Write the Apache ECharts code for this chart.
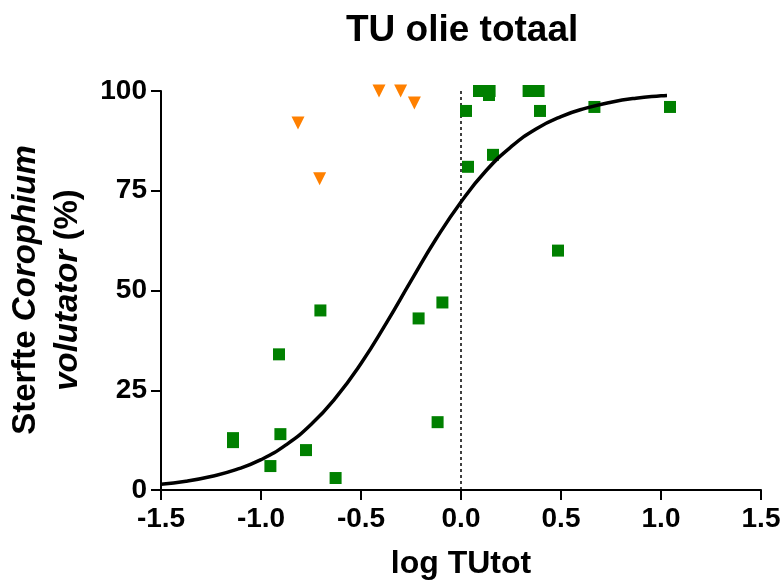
<!DOCTYPE html>
<html>
<head>
<meta charset="utf-8">
<script src="https://cdn.jsdelivr.net/npm/echarts@6/dist/echarts.min.js"></script>
<style>html,body{margin:0;padding:0;background:#fff}#c{width:784px;height:585px}</style>
</head>
<body>
<div id="c"></div>
<script>
// Green squares: log TUtot, mortality (%)
const greenX = [0.025, 0.09, 0.143, 0.14, 0.338, 0.388, 0.395, 0.667, 1.045, 0.035, 0.16, 0.485,
                -0.703, -0.91, -0.093, -0.212, -0.117, -1.14, -1.14, -0.903, -0.775, -0.953, -0.627];
const greenY = [95, 100, 100, 99, 100, 100, 95, 96, 96, 81, 84, 60,
                45, 34, 47, 43, 17, 13, 12, 14, 10, 6, 3];
// Orange triangles
const orangeX = [-0.815, -0.707, -0.41, -0.302, -0.233];
const orangeY = [92, 78, 100, 100, 97];
// Fitted curve
const curveX = [-1.5, -1.375, -1.25, -1.125, -1.0, -0.875, -0.75, -0.625, -0.5, -0.375, -0.25, -0.125,
                0, 0.125, 0.25, 0.375, 0.5, 0.625, 0.75, 0.875, 1.0, 1.03];
const curveY = [1.45, 2.2, 3.4, 5.1, 7.6, 11.3, 16.4, 23.2, 31.7, 41.7, 52.4, 62.9,
                72.2, 80.0, 86.0, 90.5, 93.6, 95.7, 97.2, 98.2, 98.8, 98.9];
// Vertical dotted reference line at x = 0
const refX = [0, 0];
const refY = [0, 100];
const xTickLabels = ['-1.5', '-1.0', '-0.5', '0.0', '0.5', '1.0', '1.5'];
const yTickLabels = ['0', '25', '50', '75', '100'];

const FONT = 'Liberation Sans, Arial, sans-serif';
const zip = (a, b) => a.map((v, i) => [v, b[i]]);

const chart = echarts.init(document.getElementById('c'), null, {renderer: 'canvas'});
chart.setOption({
  animation: false,
  backgroundColor: '#ffffff',
  title: {
    text: 'TU olie totaal',
    left: 341, top: 7,
    textStyle: {fontFamily: FONT, fontWeight: 'bold', fontSize: 37, color: '#000'}
  },
  grid: {left: 161, right: 23, top: 91, bottom: 94, containLabel: false},
  xAxis: {
    type: 'value', min: -1.5, max: 1.5, interval: 0.5,
    name: 'log TUtot', nameLocation: 'middle', nameGap: 58,
    nameTextStyle: {fontFamily: FONT, fontWeight: 'bold', fontSize: 32, color: '#000'},
    axisLine: {show: true, onZero: false, lineStyle: {color: '#000', width: 2}},
    axisTick: {show: true, inside: false, length: 10, lineStyle: {color: '#000', width: 2}},
    axisLabel: {
      margin: 15, fontFamily: FONT, fontWeight: 'bold', fontSize: 28, color: '#000',
      formatter: v => xTickLabels[Math.round((v + 1.5) / 0.5)]
    },
    splitLine: {show: false}
  },
  yAxis: {
    type: 'value', min: 0, max: 100, interval: 25,
    axisLine: {show: true, onZero: false, lineStyle: {color: '#000', width: 2}},
    axisTick: {show: true, inside: false, length: 10, lineStyle: {color: '#000', width: 2}},
    axisLabel: {
      margin: 14, fontFamily: FONT, fontWeight: 'bold', fontSize: 28, color: '#000',
      formatter: v => yTickLabels[Math.round(v / 25)]
    },
    splitLine: {show: false}
  },
  graphic: [{
    type: 'text',
    x: 47, y: 290,
    rotation: Math.PI / 2,
    style: {
      text: '{b|Sterfte }{i|Corophium}\n{i|volutator}{b| (%)}',
      align: 'center', verticalAlign: 'middle',
      rich: {
        b: {fontFamily: FONT, fontWeight: 'bold', fontSize: 33, lineHeight: 42, fill: '#000'},
        i: {fontFamily: FONT, fontWeight: 'bold', fontStyle: 'italic', fontSize: 33, lineHeight: 42, fill: '#000'}
      }
    }
  }],
  series: [
    {
      type: 'line', data: zip(refX, refY), symbol: 'none', silent: true,
      lineStyle: {color: '#000', width: 1.5, type: [3, 3]}, z: 1
    },
    {
      type: 'scatter', data: zip(greenX, greenY), symbol: 'rect', symbolSize: 12,
      itemStyle: {color: '#008000', opacity: 1}, z: 2
    },
    {
      type: 'scatter', data: zip(orangeX, orangeY), symbol: 'triangle', symbolRotate: 180,
      symbolSize: 13, itemStyle: {color: '#ff8000', opacity: 1}, z: 2
    },
    {
      type: 'line', data: zip(curveX, curveY), symbol: 'none', smooth: true,
      lineStyle: {color: '#000', width: 3.5}, z: 3
    }
  ]
});
</script>
</body>
</html>
